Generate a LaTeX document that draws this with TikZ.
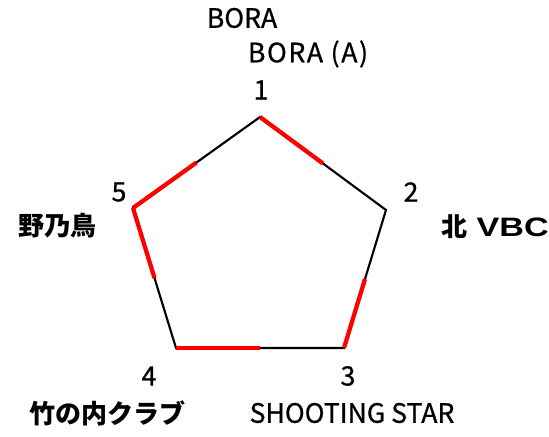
\documentclass[tikz,border=0pt]{standalone}
\usepackage{fontspec}
\usepackage{graphicx}
\setmainfont{Noto Sans CJK JP}
\newfontfamily\arialbold{Liberation Sans}[UprightFont=* Bold]
\usepackage{tikz}
\usetikzlibrary{calc}

\tikzset{
  edge/.style={black,line width=1.6pt},
  half/.style={red,line width=3.2pt},
  lbl/.style={font=\fontsize{20}{22}\selectfont\addfontfeatures{FakeBold=0.8},inner sep=0pt},
  team/.style={font=\fontsize{19.5}{22}\selectfont\bfseries,inner sep=0pt}
}

\begin{document}
\begin{tikzpicture}[x=0.75pt,y=-0.75pt]
\useasboundingbox (0,0) rectangle (549,436);
\coordinate (p1) at (260,117);
\coordinate (p2) at (386,210);
\coordinate (p3) at (344,348);
\coordinate (p4) at (176,348);
\coordinate (p5) at (133,208);
\draw[edge] (p1)--(p2)--(p3)--(p4)--(p5)--cycle;
\draw[half] (p1)--($(p1)!0.5!(p2)$);
\draw[half] (p3)--($(p3)!0.5!(p2)$);
\draw[half] (p4)--($(p4)!0.5!(p3)$);
\draw[half] (p5)--($(p5)!0.5!(p4)$);
\draw[half] (p5)--($(p5)!0.5!(p1)$);
\node[lbl] (n1) at (261,90){1};
\node[lbl] (n2) at (411,192){2};
\node[lbl] (n3) at (348,376){3};
\node[lbl] (n4) at (149,376){4};
\node[lbl] (n5) at (119,192){5};
\node[lbl] (t1a) at (242,18){BORA};
\node[lbl] (t1b) at (308,54){\addfontfeatures{LetterSpace=6}BORA (A)};
\node[team] (t2) at (495,227){北\hspace{7pt}{\arialbold\fontsize{20}{22}\selectfont\scalebox{1.28}[1]{VBC}}};
\node[lbl] (t3) at (352,413){SHOOTING STAR};
\node[team] (t4) at (107,413){竹の内クラブ};
\node[team] (t5) at (57,226){野乃鳥};
\end{tikzpicture}
\end{document}
